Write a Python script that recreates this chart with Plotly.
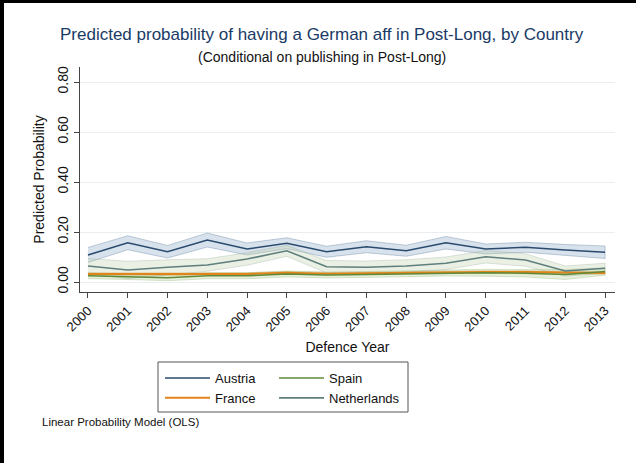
import plotly.graph_objects as go

years = list(range(2000, 2014))

austria = [0.108, 0.157, 0.121, 0.168, 0.132, 0.155, 0.121, 0.141, 0.125, 0.157, 0.132, 0.139, 0.128, 0.119]
austria_hw = [0.030, 0.028, 0.025, 0.028, 0.024, 0.022, 0.022, 0.024, 0.022, 0.025, 0.020, 0.020, 0.022, 0.025]

france = [0.032, 0.032, 0.030, 0.033, 0.032, 0.037, 0.033, 0.035, 0.037, 0.040, 0.040, 0.040, 0.037, 0.036]
france_hw = [0.005, 0.005, 0.005, 0.005, 0.005, 0.005, 0.005, 0.005, 0.005, 0.005, 0.005, 0.005, 0.005, 0.005]

spain = [0.025, 0.022, 0.017, 0.025, 0.025, 0.032, 0.028, 0.030, 0.033, 0.036, 0.037, 0.035, 0.030, 0.042]
spain_hw = [0.012, 0.012, 0.012, 0.012, 0.012, 0.012, 0.012, 0.012, 0.012, 0.012, 0.014, 0.015, 0.020, 0.015]

netherlands = [0.064, 0.048, 0.059, 0.068, 0.092, 0.125, 0.061, 0.059, 0.064, 0.075, 0.101, 0.088, 0.044, 0.055]
netherlands_hw = [0.030, 0.035, 0.030, 0.025, 0.025, 0.022, 0.025, 0.025, 0.025, 0.025, 0.025, 0.025, 0.020, 0.020]

series = [
    ("Austria", austria, austria_hw, "#2a4b6e", "rgba(110,150,190,0.28)", "rgba(90,120,150,0.45)", "legend", 1.6),
    ("France", france, france_hw, "#e0841c", "rgba(240,170,80,0.35)", "rgba(220,150,60,0.4)", "legend", 2.0),
    ("Spain", spain, spain_hw, "#5f8a3a", "rgba(150,190,110,0.25)", "rgba(130,170,100,0.35)", "legend2", 1.6),
    ("Netherlands", netherlands, netherlands_hw, "#5e7f7c", "rgba(190,205,170,0.30)", "rgba(150,170,150,0.40)", "legend2", 1.6),
]

fig = go.Figure()

for name, vals, hw, lc, fc, ec, lg, w in series:
    up = [v + h for v, h in zip(vals, hw)]
    lo = [v - h for v, h in zip(vals, hw)]
    fig.add_trace(go.Scatter(
        x=years + years[::-1], y=up + lo[::-1], fill="toself", fillcolor=fc,
        line=dict(color=ec, width=0.8), showlegend=False, hoverinfo="skip"))

for name, vals, hw, lc, fc, ec, lg, w in series:
    fig.add_trace(go.Scatter(
        x=years, y=vals, mode="lines", name=name, legend=lg,
        line=dict(color=lc, width=w)))

# pixel helpers for the plot area: x 80..615, y 67..292
L, R, T, B = 80, 29, 67, 172
PW, PH = 644 - L - R, 464 - T - B


def px(xp):
    return (xp - L) / PW


def py(yp):
    return (T + PH - yp) / PH


font = "Liberation Sans, Arial, Helvetica, sans-serif"

shapes = [
    dict(type="rect", xref="paper", yref="paper", x0=px(0), x1=px(4), y0=py(463), y1=py(0),
         fillcolor="black", line=dict(width=0)),
    dict(type="rect", xref="paper", yref="paper", x0=px(0), x1=px(636), y0=py(3), y1=py(0),
         fillcolor="black", line=dict(width=0)),
    dict(type="rect", xref="paper", yref="paper", x0=px(158), x1=px(408), y0=py(412), y1=py(362),
         line=dict(color="#555555", width=1), fillcolor="rgba(0,0,0,0)"),
]

annotations = [
    dict(text="Predicted probability of having a German aff in Post-Long, by Country",
         xref="paper", yref="paper", x=px(322), y=py(35), xanchor="center", yanchor="middle",
         showarrow=False, font=dict(family=font, size=17, color="#1a3a66")),
    dict(text="(Conditional on publishing in Post-Long)",
         xref="paper", yref="paper", x=px(322), y=py(57), xanchor="center", yanchor="middle",
         showarrow=False, font=dict(family=font, size=14, color="#111111")),
    dict(text="Linear Probability Model (OLS)",
         xref="paper", yref="paper", x=px(40), y=py(422), xanchor="left", yanchor="middle",
         showarrow=False, font=dict(family=font, size=11.5, color="#111111")),
]

fig.update_layout(
    width=644, height=464,
    margin=dict(l=L, r=R, t=T, b=B),
    paper_bgcolor="white", plot_bgcolor="white",
    font=dict(family=font, color="#111111"),
    shapes=shapes, annotations=annotations,
    legend=dict(x=px(160), y=py(363), xanchor="left", yanchor="top", orientation="v",
                bgcolor="rgba(0,0,0,0)", font=dict(size=13), tracegroupgap=0, itemwidth=45),
    legend2=dict(x=px(274), y=py(363), xanchor="left", yanchor="top", orientation="v",
                 bgcolor="rgba(0,0,0,0)", font=dict(size=13), tracegroupgap=0, itemwidth=45),
)

fig.update_xaxes(
    range=[1999.8, 2013.25], tickmode="array", tickvals=years, ticktext=[str(y) for y in years],
    tickangle=-45, ticks="outside", ticklen=5, tickcolor="#444444",
    showline=True, linecolor="#444444", linewidth=1, showgrid=False, zeroline=False,
    tickfont=dict(size=13),
    title=dict(text="Defence Year", font=dict(size=14), standoff=8),
)

fig.update_yaxes(
    range=[-0.04, 0.86], tickmode="array", tickvals=[0, 0.2, 0.4, 0.6, 0.8],
    ticktext=["0.00", "0.20", "0.40", "0.60", "0.80"], tickangle=-90,
    ticks="outside", ticklen=5, tickcolor="#444444",
    showline=True, linecolor="#444444", linewidth=1,
    showgrid=True, gridcolor="#eaeef0", gridwidth=1, zeroline=False,
    tickfont=dict(size=14),
    title=dict(text="Predicted Probability", font=dict(size=14), standoff=7),
)

fig.write_html("out.html")
